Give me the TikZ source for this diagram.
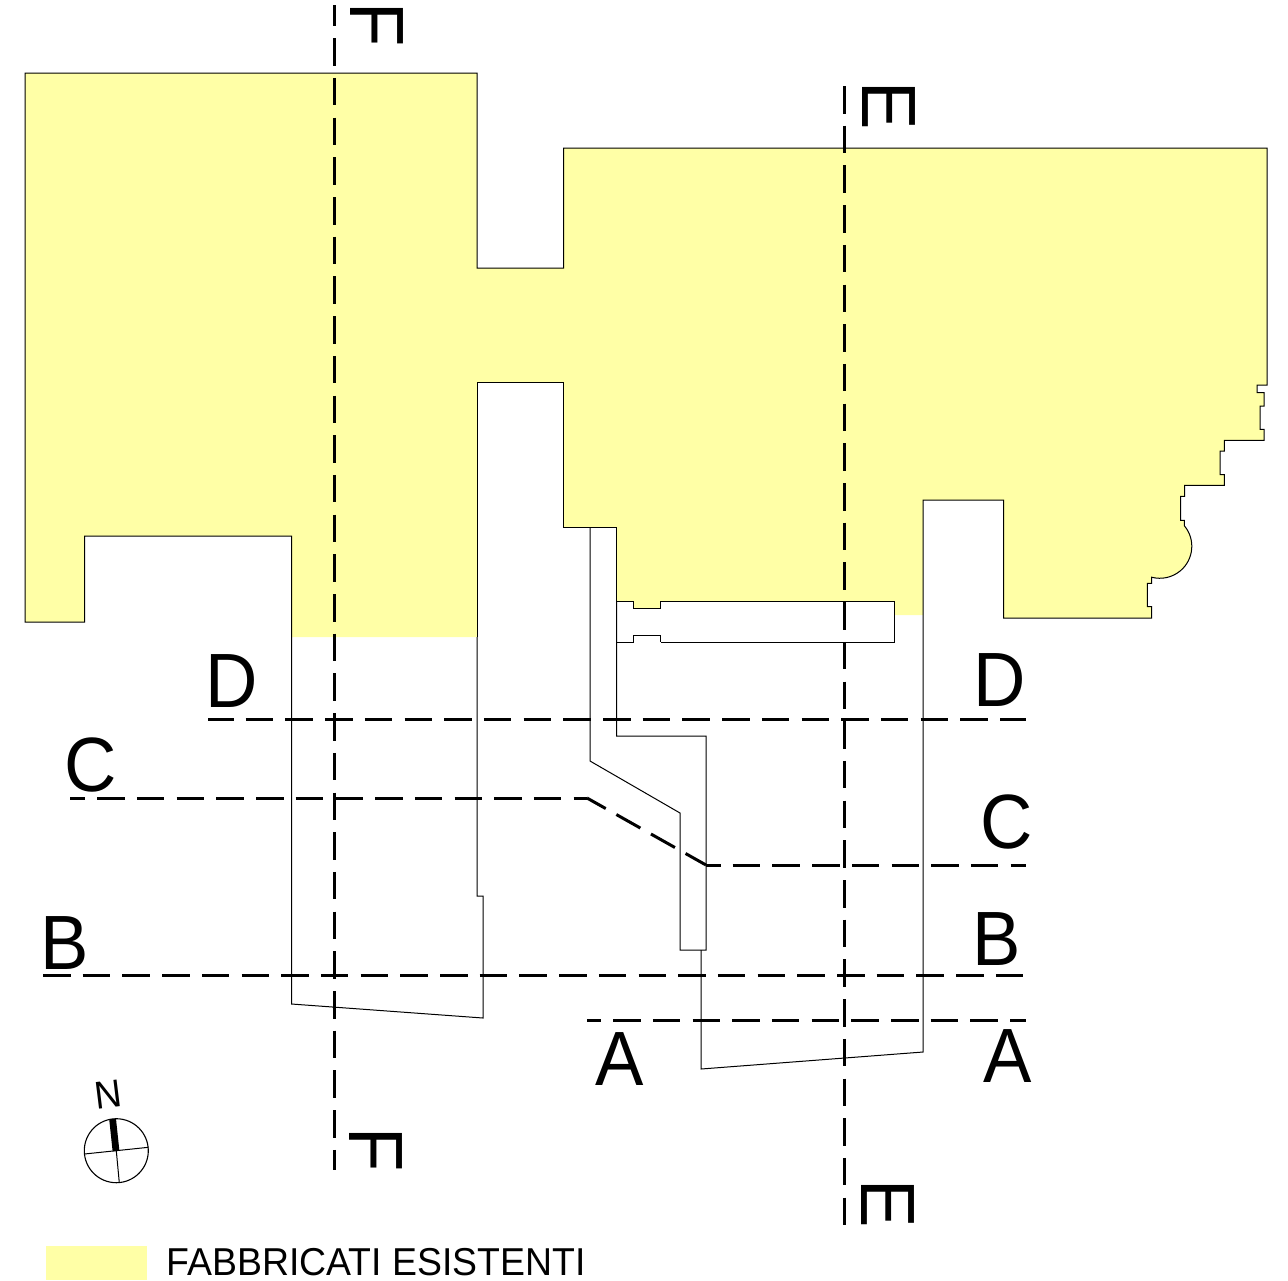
\documentclass[tikz,border=0pt]{standalone}
\usepackage{fontspec}
\setmainfont{Liberation Sans}
\usetikzlibrary{positioning}
\definecolor{existing}{RGB}{255,255,166}
\tikzset{
	wall/.style={line width=0.5pt, line join=miter},
	secline/.style={line width=1.5pt, dash pattern=on 13.75pt off 6.1pt},
	seclabel/.style={inner sep=0pt, transform shape, yscale=1.04, xscale=0.98, font=\fontsize{37}{37}\selectfont},
	smalllabel/.style={inner sep=0pt, transform shape, yscale=1.04, font=\fontsize{18.7}{18.7}\selectfont}
}

\begin{document}
\begin{tikzpicture}[x=0.5pt, y=-0.5pt]
	\useasboundingbox (0,0) rectangle (1288,1280);

	% existing buildings
	\fill[existing]	(25,73) -| (477,268) -| (563.5,148) -| (1267,385) -| (1257,392.7) -| (1264,406) -| (1260,429.3) -| (1264,440.3) -| (1224.3,451) -| (1220,474.7) -| (1224.3,485.3) -| (1184.7,496.3) -| (1180.7,520.3) -| (1184.3,525.7)
		arc[start angle=-40, end angle=105, radius=32] -- (1151.7,583.3) -| (1147.3,606.7) -| (1151.7,618) -| (1003.5,500) -| (923,615) -| (894,601) -| (660.5,608) -| (633,601) -| (616.5,527) -| (563.5,382) -| (477,637) -| (291.5,536) -| (84.5,622) -| cycle;
	\draw[wall]	(477,637) |- (563.5,382) |- (616.5,527) |- (633,601) |- (660.5,608) |- (894,601) |- (660.5,642.3);
	\draw[wall]	(291.5,637) |- (84.5,536) |- (25,622) |- (477,73) |- (563.5,268) |- (1267,148) |- (1257,385) |- (1264,392.7) |- (1260,406) |- (1264,429.3) |- (1224.3,440.3) |- (1220,451) |- (1224.3,474.7) |- (1184.7,485.3) |- (1180.7,496.3) |- (1184.3,520.3) -- (1184.3,525.7)
		arc[start angle=-40, end angle=105, radius=32] -- (1151.7,583.3) -| (1147.3,606.7) -| (1151.7,618) -| (1003.5,500) -| (923,1052) -- (701,1069) -- (701,950);

	% plan outlines
	\draw[wall]	(291.5,637) -- (291.5,1004) -- (483,1018) |- (477,896) -- (477,637);
	\draw[wall]	(590,527) -- (590,761) -- (680,813) |- (706,950) |- (616.5,736) -- (616.5,601);
	\draw[wall]	(616.5,642.3) -| (633.3,635.7) -| (660.5,642.3);

	% section lines
	\draw[secline, dash phase=3.25pt]	(334,5) -- (334,1170);
	\draw[secline]	(844,86) -- (844,1225);
	\draw[secline, dash phase=1pt]	(208,719) -- (1026,719);
	\draw[secline, dash phase=6.25pt]	(70,798) -- (587,798);
	\draw[secline, dash phase=3pt]	(587,798) -- (706,865);
	\draw[secline, dash phase=6.5pt]	(706,865) -- (1026,865);
	\draw[secline]	(43,975) -- (1026,975);
	\draw[secline, dash phase=6.8pt]	(587,1020) -- (1026,1020);

	% section letters
	\node[rotate=-90, seclabel]	(Ftop) at (377,24.5) {F};
	\node[rotate=-90, seclabel]	(Fbot) at (376.3,1149.5) {F};
	\node[rotate=-90, seclabel]	(Etop) at (888.5,105.5) {E};
	\node[rotate=-90, seclabel]	(Ebot) at (887.5,1204) {E};
	\node[seclabel]	(Dleft) at (231.5,681.5) {D};
	\node[seclabel]	(Dright) at (1000,680) {D};
	\node[seclabel]	(Cleft) at (91,764.5) {C};
	\node[seclabel]	(Cright) at (1007,822) {C};
	\node[seclabel]	(Bleft) at (65,943.5) {B};
	\node[seclabel]	(Bright) at (997,939) {B};
	\node[seclabel]	(Aleft) at (620,1059) {A};
	\node[seclabel]	(Aright) at (1008,1056) {A};

	% north mark
	\node[rotate=7, smalllabel]	(north) at (108,1095) {N};
	\draw[wall, line width=0.55pt]	(116.3,1150.7) circle[radius=32];
	\draw[wall]	(84.3,1154) -- (148.3,1147.3);
	\draw[wall]	(116.3,1150.7) -- (119.3,1182.7);
	\draw[line width=3.4pt]	(112.6,1119) -- (116,1151);

	% legend
	\fill[existing]	(46,1246) rectangle (147,1280);
	\node[smalllabel, anchor=base west]	(legend) at (166,1275) {FABBRICATI ESISTENTI};
\end{tikzpicture}
\end{document}
